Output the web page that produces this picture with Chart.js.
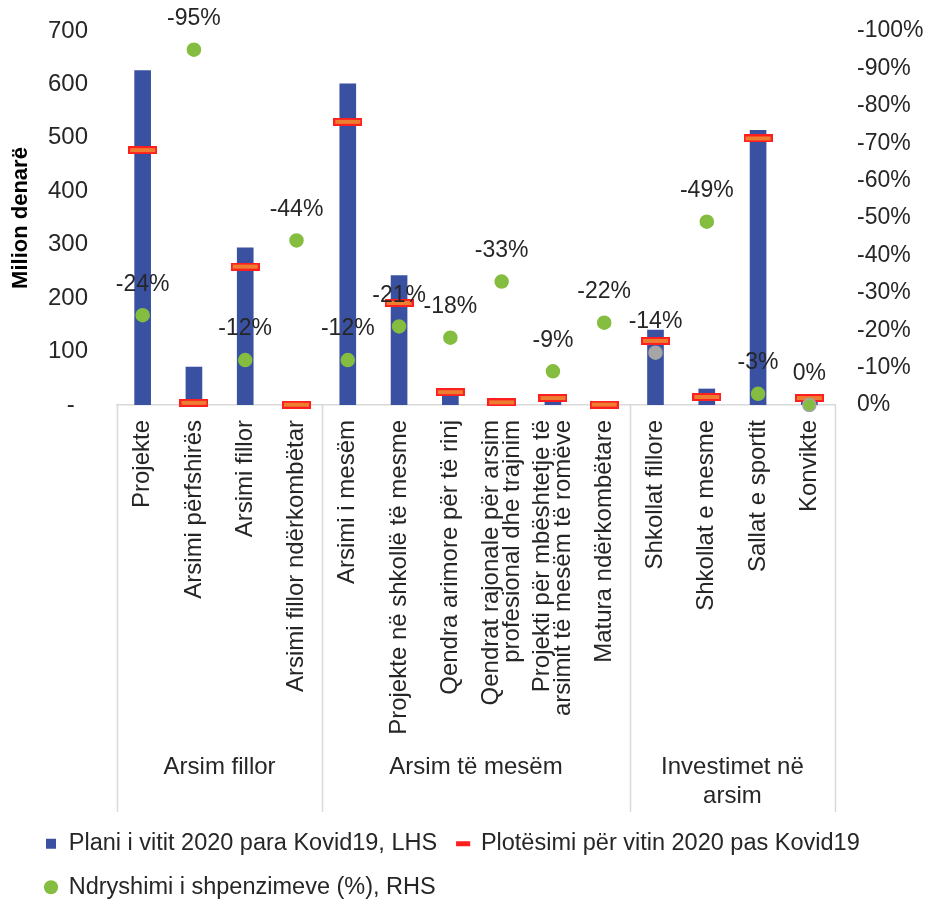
<!DOCTYPE html>
<html>
<head>
<meta charset="utf-8">
<script src="https://cdn.jsdelivr.net/npm/chart.js@4.4.1/dist/chart.umd.min.js"></script>
<style>
body{ margin:0; background:#ffffff; }
</style>
</head>
<body>
<canvas id="chart" width="927" height="900"></canvas>
<script>
// kategoritë (boshti x)
var categories = [
    'Projekte',
    'Arsimi përfshirës',
    'Arsimi fillor',
    'Arsimi fillor ndërkombëtar',
    'Arsimi i mesëm',
    'Projekte në shkollë të mesme',
    'Qendra arimore për të rinj',
    ['Qendrat rajonale për arsim', 'profesional dhe trajnim'],
    ['Projekti për mbështetje të', 'arsimit të mesëm të romëve'],
    'Matura ndërkombëtare',
    'Shkollat fillore',
    'Shkollat e mesme',
    'Sallat e sportit',
    'Konvikte'
];
var groups = ['Arsim fillor', 'Arsim të mesëm', ['Investimet në', 'arsim']];
var groupSizes = [4, 6, 4];

// milion denarë
var plan2020     = [626, 71, 294, 0.9, 601, 242, 29, 7.5, 14, 1, 140, 30, 514, 13];
var realized2020 = [477, 4, 259, 0.5, 530, 191, 24, 5, 13, 0.8, 120, 15, 499, 13];
// ndryshimi në %
var changePct    = [-24, -95, -12, -44, -12, -21, -18, -33, -9, -22, -14, -49, -3, 0];

var legendNames = [
    'Plani i vitit 2020 para Kovid19, LHS',
    'Plotësimi për vitin 2020 pas Kovid19',
    'Ndryshimi i shpenzimeve (%), RHS'
];

var BLUE = '#3a51a2', ORANGE = '#ed7d31', RED = '#ff1f1f', GREEN = '#84bd3f', GREY = '#a6a6a6';
var FONT = "'Liberation Sans', Arial, sans-serif";
var TXT = '#262626';

Chart.defaults.font.family = FONT;
Chart.defaults.color = TXT;

// viza e kuqe/portokalli per plotesimin
var makeDash = function(){
    var c = document.createElement('canvas');
    c.width = 29; c.height = 8;
    var g = c.getContext('2d');
    g.fillStyle = RED;
    g.fillRect(0, 0, 29, 8);
    g.fillStyle = ORANGE;
    g.fillRect(2, 2, 25, 4);
    return c;
};

var pointColors = changePct.map(function(v, i){ return i === 10 ? GREY : GREEN; });
var pointBorders = changePct.map(function(v, i){ return (i === 10 || i === 13) ? GREY : GREEN; });

// etiketat e perqindjeve mbi pikat
var pctLabels = {
    id: 'pctLabels',
    afterDatasetsDraw: function(chart){
        var ctx = chart.ctx;
        var meta = chart.getDatasetMeta(2);
        ctx.save();
        ctx.font = '23px ' + FONT;
        ctx.fillStyle = TXT;
        ctx.textAlign = 'center';
        ctx.textBaseline = 'middle';
        meta.data.forEach(function(pt, i){
            ctx.fillText(changePct[i] + '%', pt.x, pt.y - 31);
        });
        ctx.restore();
    }
};

// emrat vertikal + grupet poshte boshtit x
var groupAxis = {
    id: 'groupAxis',
    afterDraw: function(chart){
        var ctx = chart.ctx;
        var xs = chart.scales.x;
        var top = xs.top, bottom = xs.bottom;
        var start = 0;
        ctx.save();
        ctx.fillStyle = TXT;

        // kategoritë, te rrotulluara
        ctx.font = '24px ' + FONT;
        ctx.textAlign = 'right';
        ctx.textBaseline = 'middle';
        categories.forEach(function(lab, i){
            var lines = [].concat(lab);
            var px = xs.getPixelForValue(i);
            ctx.save();
            ctx.translate(px, top + 15);
            ctx.rotate(-Math.PI / 2);
            lines.forEach(function(t, li){
                ctx.fillText(t, 0, (li - (lines.length - 1) / 2) * 21);
            });
            ctx.restore();
        });

        ctx.strokeStyle = '#d9d9d9';
        ctx.lineWidth = 1.5;
        ctx.font = '24px ' + FONT;
        ctx.textAlign = 'center';
        var bounds = [xs.getPixelForValue(-0.5)];
        groupSizes.forEach(function(n, gi){
            var a = xs.getPixelForValue(start - 0.5);
            var b = xs.getPixelForValue(start + n - 0.5);
            bounds.push(b);
            var lines = [].concat(groups[gi]);
            lines.forEach(function(t, li){
                ctx.fillText(t, (a + b) / 2, top + 362 + li * 29);
            });
            start += n;
        });
        bounds.forEach(function(bx){
            ctx.beginPath();
            ctx.moveTo(Math.round(bx) + 0.5, top);
            ctx.lineTo(Math.round(bx) + 0.5, bottom);
            ctx.stroke();
        });
        ctx.restore();
    }
};

var fixY = function(w){
    return function(scale){
        scale.width = w;
        scale.paddingTop = 0;
        scale.paddingBottom = 0;
    };
};

var ctx = document.getElementById('chart').getContext('2d');
var chart = new Chart(ctx, {
    type: 'bar',
    data: {
        labels: categories,
        datasets: [
            {
                type: 'bar',
                label: legendNames[0],
                data: plan2020,
                backgroundColor: BLUE,
                barThickness: 16,
                yAxisID: 'y',
                order: 3
            },
            {
                type: 'line',
                label: legendNames[1],
                data: realized2020,
                showLine: false,
                pointStyle: makeDash(),
                pointRadius: 5,
                yAxisID: 'y',
                clip: false,
                order: 2
            },
            {
                type: 'line',
                label: legendNames[2],
                data: changePct,
                showLine: false,
                pointStyle: 'circle',
                pointRadius: 6.5,
                pointBackgroundColor: pointColors,
                pointBorderColor: pointBorders,
                pointBorderWidth: 1.5,
                yAxisID: 'y2',
                clip: false,
                order: 1
            }
        ]
    },
    options: {
        responsive: false,
        animation: false,
        layout: { padding: { left: 25, right: 0, top: 31, bottom: -9 } },
        plugins: {
            tooltip: { enabled: false },
            legend: {
                position: 'bottom',
                align: 'start',
                labels: {
                    usePointStyle: true,
                    boxWidth: 12,
                    boxHeight: 10,
                    padding: 20,
                    color: TXT,
                    font: { size: 23.5 },
                    sort: function(a, b){ return a.datasetIndex - b.datasetIndex; },
                    generateLabels: function(chart){
                        var items = Chart.defaults.plugins.legend.labels.generateLabels(chart);
                        items.forEach(function(it){
                            if( it.datasetIndex === 0 ){
                                it.pointStyle = 'rect'; it.fillStyle = BLUE; it.strokeStyle = BLUE; it.lineWidth = 0;
                            }else if( it.datasetIndex === 1 ){
                                it.pointStyle = 'line'; it.strokeStyle = RED; it.fillStyle = RED; it.lineWidth = 5;
                            }else{
                                it.pointStyle = 'circle'; it.fillStyle = GREEN; it.strokeStyle = GREEN; it.lineWidth = 0;
                            }
                        });
                        return items;
                    }
                }
            }
        },
        scales: {
            x: {
                grid: { display: false, drawTicks: false },
                border: { display: true, color: '#d9d9d9', width: 1.5 },
                ticks: { display: false },
                afterFit: function(scale){ scale.height = 407; }
            },
            y: {
                position: 'left',
                min: 0,
                max: 700,
                grid: { display: false, drawTicks: false },
                border: { display: false },
                ticks: {
                    stepSize: 100,
                    padding: 29,
                    font: { size: 24 },
                    color: TXT,
                    callback: function(v){ return v === 0 ? '-  ' : v; }
                },
                title: {
                    display: true,
                    text: 'Milion denarë',
                    color: '#000000',
                    font: { size: 22, weight: '600' },
                    padding: { top: -17, bottom: 0 }
                },
                afterFit: fixY(92)
            },
            y2: {
                position: 'right',
                min: -100,
                max: 0,
                reverse: true,
                grid: { display: false, drawTicks: false },
                border: { display: false },
                ticks: {
                    stepSize: 10,
                    padding: 22,
                    font: { size: 23 },
                    color: TXT,
                    callback: function(v){ return v + '%'; }
                },
                afterFit: fixY(92)
            }
        }
    },
    plugins: [pctLabels, groupAxis]
});
</script>
</body>
</html>
